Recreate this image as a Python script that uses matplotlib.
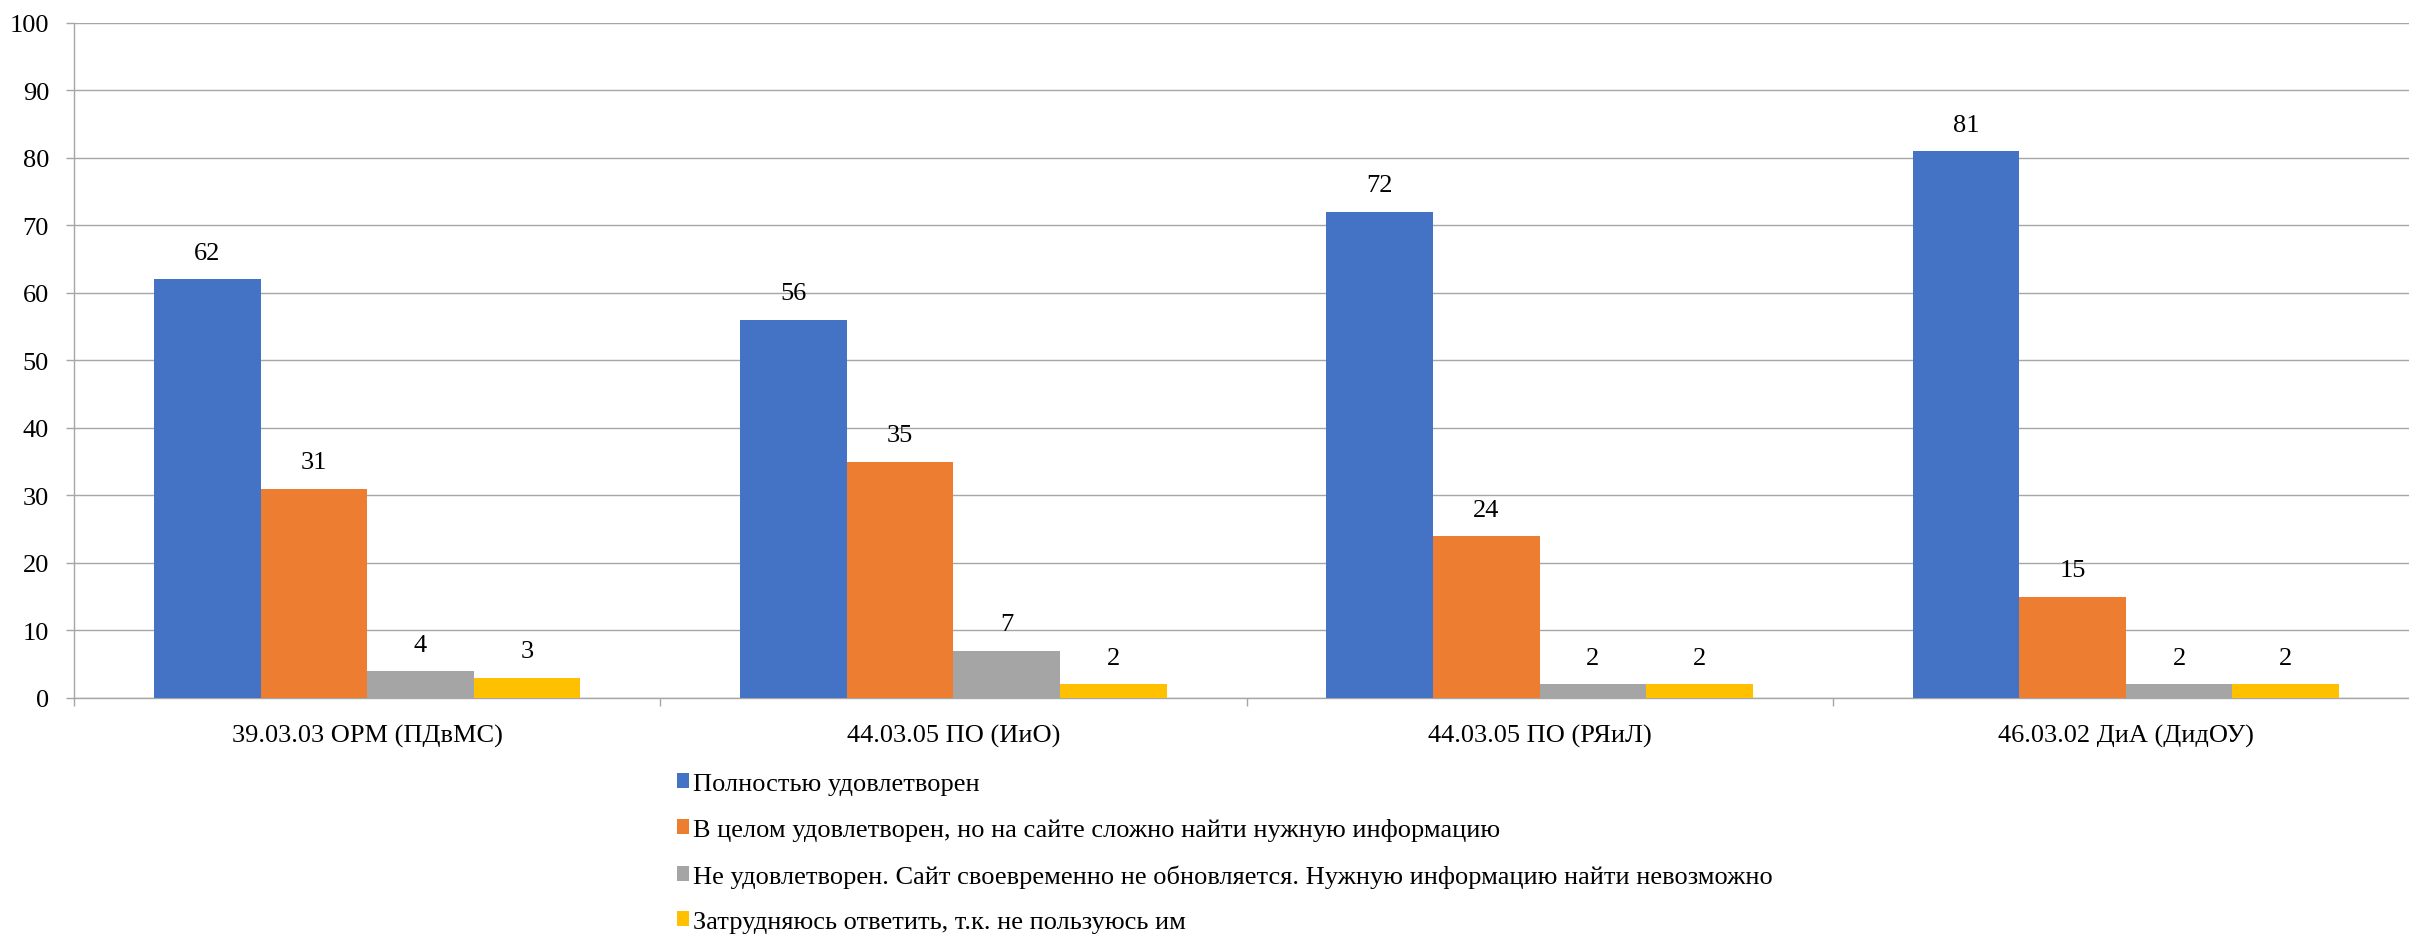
import numpy as np
import matplotlib
matplotlib.use("Agg")
import matplotlib.pyplot as plt

plt.rcParams.update({'font.size': 19})
plt.rcParams['font.family'] = ['Liberation Serif', 'DejaVu Serif']

categories = [
    "39.03.03 ОРМ (ПДвМС)",
    "44.03.05 ПО (ИиО)",
    "44.03.05 ПО (РЯиЛ)",
    "46.03.02 ДиА (ДидОУ)",
]
seriesNames = [
    "Полностью удовлетворен",
    "В целом удовлетворен, но на сайте сложно найти нужную информацию",
    "Не удовлетворен. Сайт своевременно не обновляется. Нужную информацию найти невозможно",
    "Затрудняюсь ответить, т.к. не пользуюсь им",
]
fullySatisfied = [62, 56, 72, 81]
mostlySatisfied = [31, 35, 24, 15]
notSatisfied = [4, 7, 2, 2]
hardToSay = [3, 2, 2, 2]
yTicks = [0, 10, 20, 30, 40, 50, 60, 70, 80, 90, 100]

values = [fullySatisfied, mostlySatisfied, notSatisfied, hardToSay]
colors = ["#4472C4", "#ED7D31", "#A5A5A5", "#FFC000"]
gridColor = "#A6A6A6"

fig = plt.figure(figsize=(24.09, 9.37), dpi=100)
# plot area runs slightly past the right edge of the picture
ax1 = fig.add_axes([74/2409, 238/937, 2345/2409, (699 - 23.5)/937])

N = len(categories)
J = len(values)
barWidth = 1/(J + 1.5)
x = np.arange(N)

for j in range(J):
    offset = (j - (J - 1)/2)*barWidth
    bars = ax1.bar(
        x + offset,
        values[j],
        width=barWidth,
        color=colors[j],
        label=seriesNames[j],
        zorder=3
    )
    ax1.bar_label(bars, padding=11, fontsize=19)

ax1.set_xlim(-0.5, N - 0.5)
ax1.set_ylim(0, 100)
ax1.set_yticks(yTicks)

ax1.set_xticks(x)
ax1.set_xticklabels(categories)
ax1.set_xticks(np.arange(N + 1) - 0.5, minor=True)
ax1.tick_params(axis="x", which="major", length=0, pad=19)
ax1.tick_params(axis="x", which="minor", length=6, color=gridColor, width=1.0)
ax1.tick_params(axis="y", length=6, color=gridColor, width=1.0, pad=12)

ax1.grid(axis="y", color=gridColor, linewidth=1.0, zorder=0)

for side in ["top", "right"]:
    ax1.spines[side].set_visible(False)
for side in ["left", "bottom"]:
    ax1.spines[side].set_color(gridColor)
    ax1.spines[side].set_linewidth(1.0)

ax1.legend(
    loc="center left",
    bbox_to_anchor=(664/2409, 1 - 854/937),
    bbox_transform=fig.transFigure,
    frameon=False,
    borderpad=0,
    handlelength=0.45,
    handleheight=0.5,
    handletextpad=0.15,
    labelspacing=0.88,
    fontsize=19
)

fig.savefig("out.png", dpi=100)
